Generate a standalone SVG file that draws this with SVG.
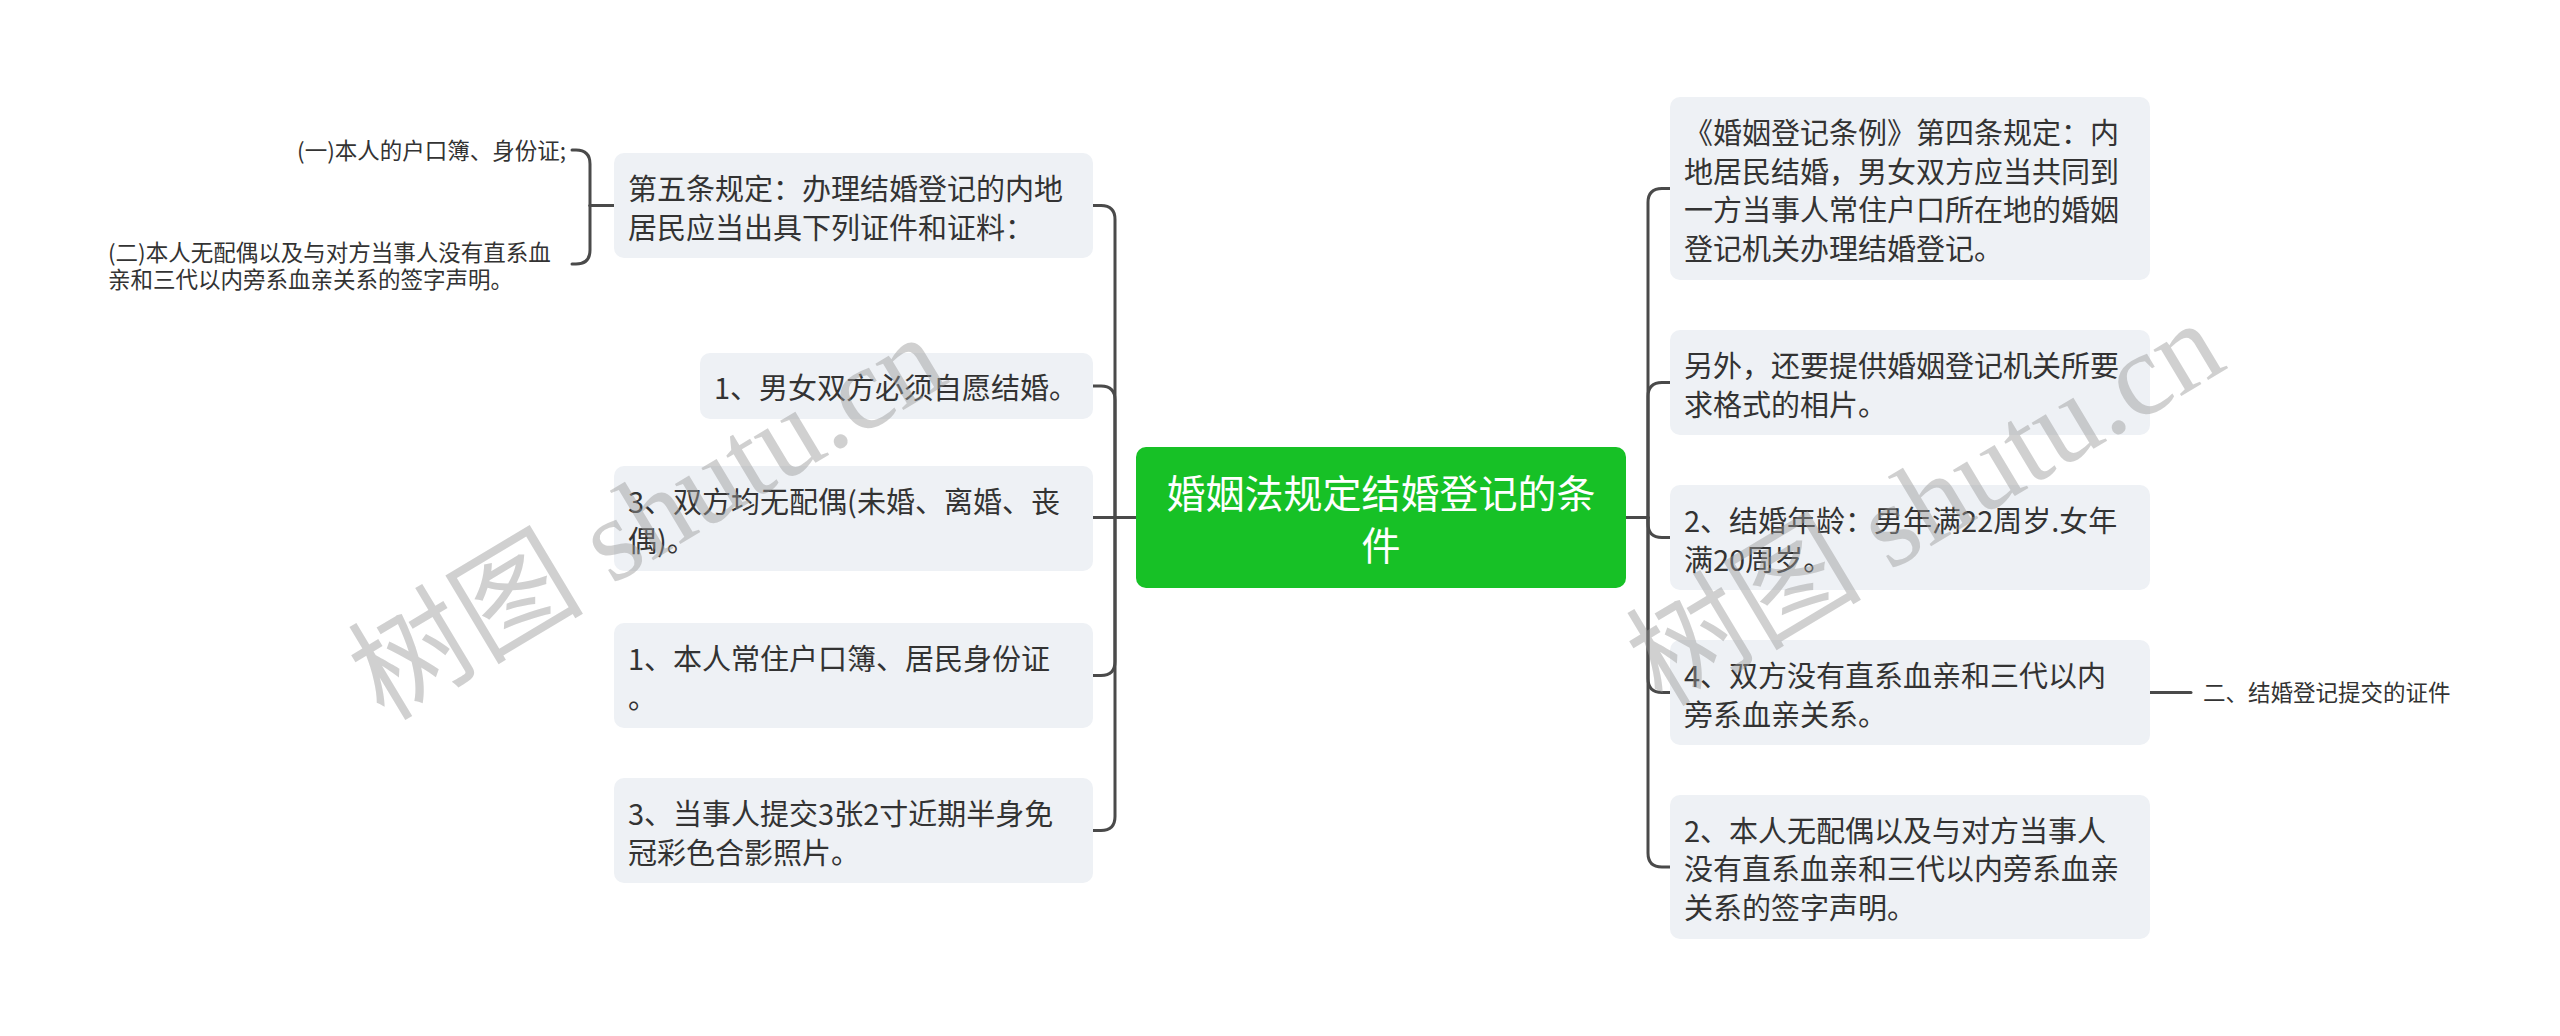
<svg xmlns="http://www.w3.org/2000/svg" width="2560" height="1036" viewBox="0 0 2560 1036">
<style>
.box{fill:#eef1f5}
.t{font-family:"Noto Sans CJK SC","Noto Sans",sans-serif;font-size:29px;fill:#333333}
.s{font-family:"Noto Sans CJK SC","Noto Sans",sans-serif;font-size:22.5px;fill:#333333}
.c{font-family:"Noto Sans CJK SC","Noto Sans",sans-serif;font-size:39px;fill:#ffffff}
.ln{fill:none;stroke:#4a4a4a;stroke-width:3;stroke-linecap:round;stroke-linejoin:round}
.wm{font-family:"Liberation Serif","Noto Sans CJK SC",serif;font-size:118px;fill:#999999;opacity:0.45}
</style>
<rect width="2560" height="1036" fill="#ffffff"/>
<g id="connectors">
<path class="ln" d="M1136,517.5 H1115"/>
<path class="ln" d="M1115,517.5 V219.5 Q1115,205.5 1101,205.5 H1093"/>
<path class="ln" d="M1115,517.5 V400 Q1115,386 1101,386 H1093"/>
<path class="ln" d="M1115,517.5 H1093"/>
<path class="ln" d="M1115,517.5 V661.5 Q1115,675.5 1101,675.5 H1093"/>
<path class="ln" d="M1115,517.5 V816.5 Q1115,830.5 1101,830.5 H1093"/>
<path class="ln" d="M614,205.5 H590"/>
<path class="ln" d="M590,205.5 V164 Q590,150 576,150 H572"/>
<path class="ln" d="M590,205.5 V250 Q590,264 576,264 H572"/>
<path class="ln" d="M1626,517.5 H1648"/>
<path class="ln" d="M1648,517.5 V202.5 Q1648,188.5 1662,188.5 H1670"/>
<path class="ln" d="M1648,517.5 V396.5 Q1648,382.5 1662,382.5 H1670"/>
<path class="ln" d="M1648,517.5 V523.5 Q1648,537.5 1662,537.5 H1670"/>
<path class="ln" d="M1648,517.5 V678.5 Q1648,692.5 1662,692.5 H1670"/>
<path class="ln" d="M1648,517.5 V853 Q1648,867 1662,867 H1670"/>
<path class="ln" d="M2150,692.5 H2191"/>
</g>
<g id="center">
<rect x="1136" y="447" width="490" height="141" rx="10" fill="#17c126"/>
<text class="c" x="1381" y="508" text-anchor="middle">婚姻法规定结婚登记的条</text>
<text class="c" x="1381" y="560" text-anchor="middle">件</text>
</g>
<g id="L1">
<rect class="box" x="614" y="153" width="479" height="105" rx="10"/>
<text class="t" x="628" y="200">第五条规定：办理结婚登记的内地</text>
<text class="t" x="628" y="239">居民应当出具下列证件和证料：</text>
</g>
<g id="L1a">
<text class="s" x="566" y="159" text-anchor="end">(一)本人的户口簿、身份证;</text>
</g>
<g id="L1b">
<text class="s" x="108" y="261">(二)本人无配偶以及与对方当事人没有直系血</text>
<text class="s" x="108" y="288">亲和三代以内旁系血亲关系的签字声明。</text>
</g>
<g id="L2">
<rect class="box" x="700" y="353" width="393" height="66" rx="10"/>
<text class="t" x="714" y="399">1、男女双方必须自愿结婚。</text>
</g>
<g id="L3">
<rect class="box" x="614" y="466" width="479" height="105" rx="10"/>
<text class="t" x="628" y="513">3、双方均无配偶(未婚、离婚、丧</text>
<text class="t" x="628" y="552">偶)。</text>
</g>
<g id="L4">
<rect class="box" x="614" y="623" width="479" height="105" rx="10"/>
<text class="t" x="628" y="670">1、本人常住户口簿、居民身份证</text>
<text class="t" x="628" y="709">。</text>
</g>
<g id="L5">
<rect class="box" x="614" y="778" width="479" height="105" rx="10"/>
<text class="t" x="628" y="825">3、当事人提交3张2寸近期半身免</text>
<text class="t" x="628" y="864">冠彩色合影照片。</text>
</g>
<g id="R1">
<rect class="box" x="1670" y="97" width="480" height="183" rx="10"/>
<text class="t" x="1684" y="144">《婚姻登记条例》第四条规定：内</text>
<text class="t" x="1684" y="182.5">地居民结婚，男女双方应当共同到</text>
<text class="t" x="1684" y="221">一方当事人常住户口所在地的婚姻</text>
<text class="t" x="1684" y="259.5">登记机关办理结婚登记。</text>
</g>
<g id="R2">
<rect class="box" x="1670" y="330" width="480" height="105" rx="10"/>
<text class="t" x="1684" y="377">另外，还要提供婚姻登记机关所要</text>
<text class="t" x="1684" y="416">求格式的相片。</text>
</g>
<g id="R3">
<rect class="box" x="1670" y="485" width="480" height="105" rx="10"/>
<text class="t" x="1684" y="532">2、结婚年龄：男年满22周岁.女年</text>
<text class="t" x="1684" y="571">满20周岁。</text>
</g>
<g id="R4">
<rect class="box" x="1670" y="640" width="480" height="105" rx="10"/>
<text class="t" x="1684" y="687">4、双方没有直系血亲和三代以内</text>
<text class="t" x="1684" y="726">旁系血亲关系。</text>
</g>
<g id="R4a">
<text class="s" x="2203" y="701">二、结婚登记提交的证件</text>
</g>
<g id="R5">
<rect class="box" x="1670" y="795" width="480" height="144" rx="10"/>
<text class="t" x="1684" y="841.5">2、本人无配偶以及与对方当事人</text>
<text class="t" x="1684" y="880">没有直系血亲和三代以内旁系血亲</text>
<text class="t" x="1684" y="918.5">关系的签字声明。</text>
</g>
<g id="watermark">
<text class="wm" transform="translate(384,722) rotate(-31)">树图 shutu.cn</text>
<text class="wm" transform="translate(1662,708) rotate(-31)">树图 shutu.cn</text>
</g>
</svg>
